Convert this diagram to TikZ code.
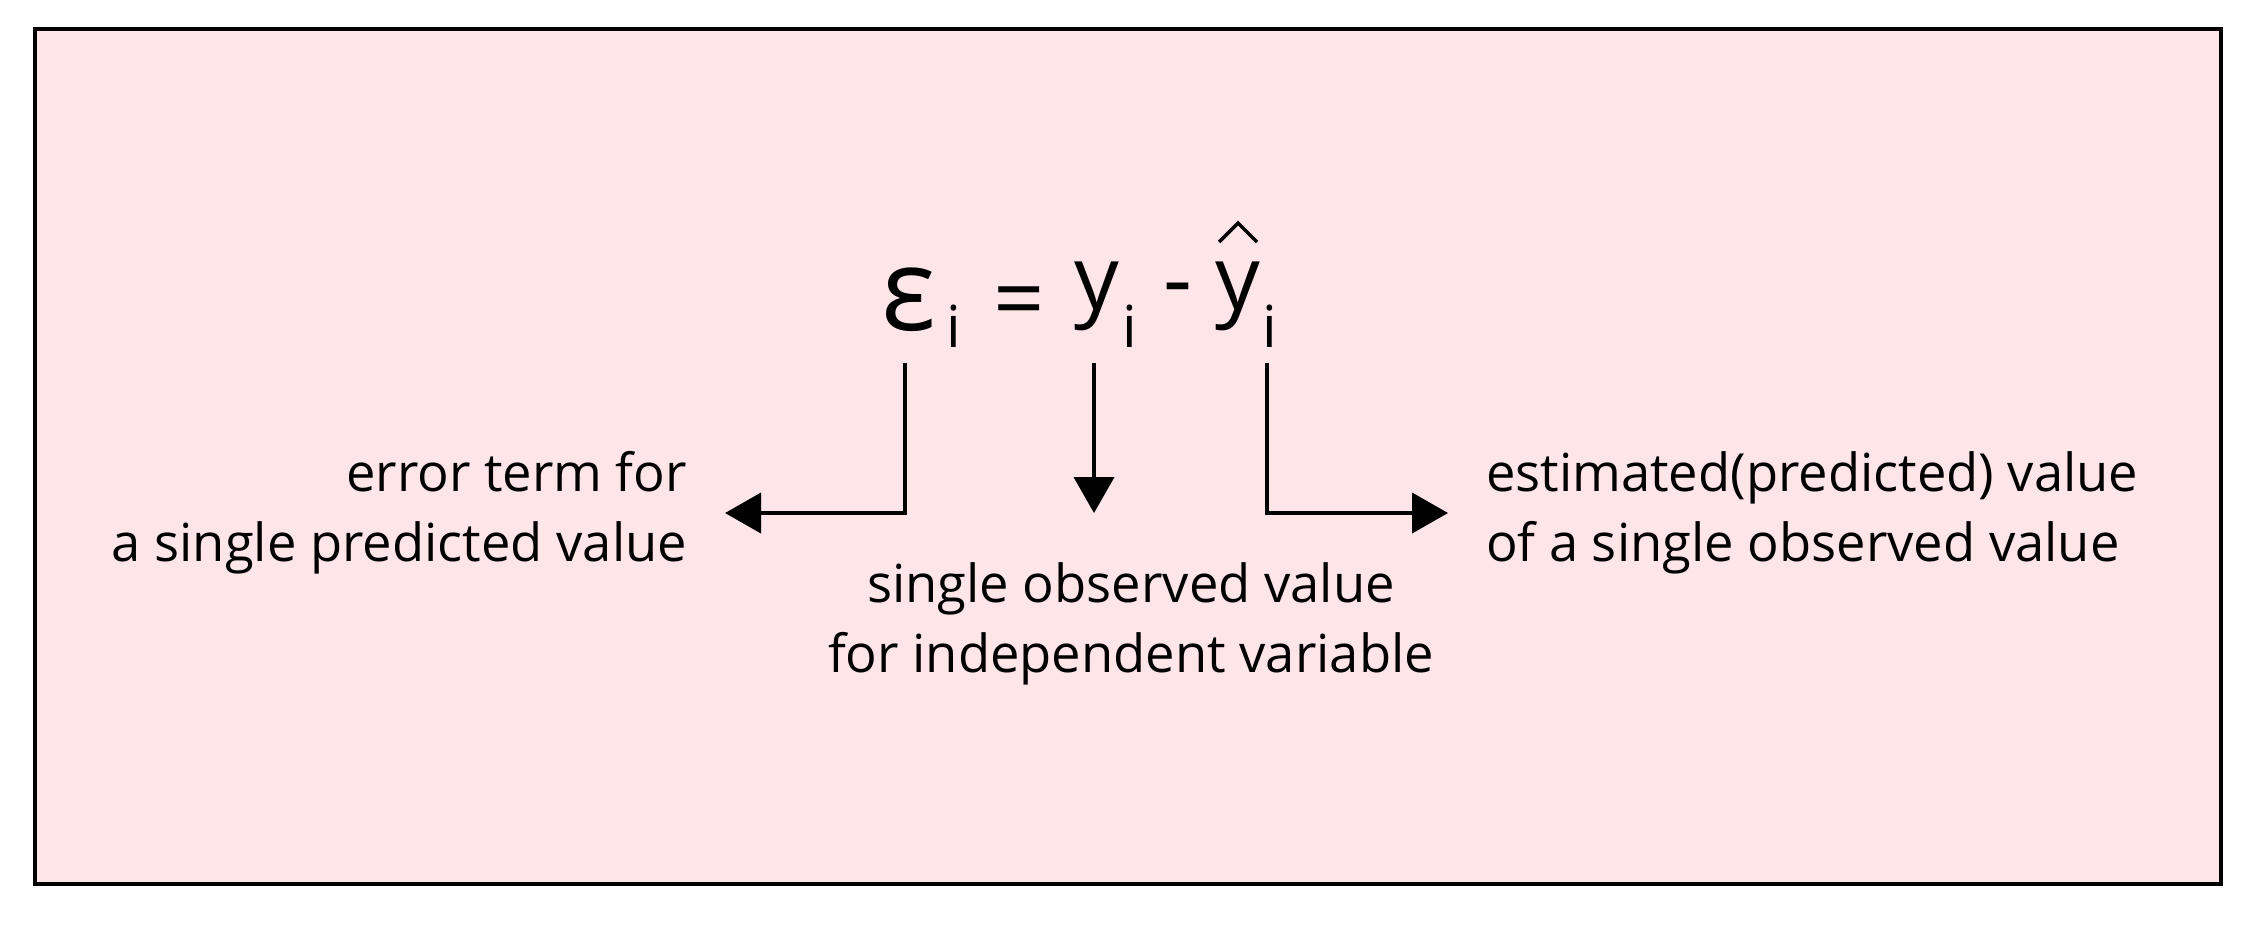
\documentclass[tikz,border=0pt]{standalone}
\usepackage{fontspec}
\setmainfont{Open Sans}
\usetikzlibrary{arrows.meta}
\definecolor{bgpink}{RGB}{254,229,231}
\tikzset{
  glyph/.style={inner sep=0pt, outer sep=0pt, anchor=base},
  lab/.style={inner sep=0pt, outer sep=0pt, font=\fontsize{15.75}{21}\selectfont},
  arr/.style={line width=1.2pt, -{Triangle[length=10.8pt,width=12pt]}},
  frame/.style={line width=1.2pt, draw=black, fill=bgpink},
  hatstroke/.style={line width=1.05pt, line join=miter}
}
\begin{document}
\begin{tikzpicture}[x=0.3pt,y=-0.3pt]
\useasboundingbox (0,0) rectangle (2260,924);
\draw[frame] (35,29) rectangle (2221,884);
% formula
\node[glyph, font=\fontsize{34.5}{34.5}\selectfont] (eps) at (909,330) {ε};
\node[glyph, font=\fontsize{17.4}{17.4}\selectfont] (i1) at (954,347) {i};
\node[glyph, font=\fontsize{27}{27}\selectfont] (eq) at (1019,330) {=};
\node[glyph, font=\fontsize{26.7}{26.7}\selectfont] (y1) at (1097,309) {y};
\node[glyph, font=\fontsize{17.4}{17.4}\selectfont] (i2) at (1130,347) {i};
\node[glyph, font=\fontsize{27}{27}\selectfont] (minus) at (1178,310) {-};
\node[glyph, font=\fontsize{26.7}{26.7}\selectfont] (y2) at (1238,309) {y};
\node[glyph, font=\fontsize{17.4}{17.4}\selectfont] (i3) at (1270,347) {i};
% hat over y
\draw[hatstroke] (1219,242) -- (1238,223) -- (1257,242);
% labels
\node[lab, anchor=east, align=right] (errlab) at (687,513) {error term for\\a single predicted value};
\node[lab, anchor=north, align=center] (obslab) at (1131,563) {single observed value\\for independent variable};
\node[lab, anchor=west, align=left] (estlab) at (1486,513) {estimated(predicted) value\\of a single observed value};
% connectors
\coordinate (f1) at (905,363);
\coordinate (f2) at (1094,363);
\coordinate (f3) at (1267,363);
\draw[arr, shorten >=11.4pt] (f1) |- (errlab.east);
\draw[arr, shorten >=15pt] (f2) -- (f2 |- obslab.north);
\draw[arr, shorten >=11.4pt] (f3) |- (estlab.west);
\end{tikzpicture}
\end{document}
